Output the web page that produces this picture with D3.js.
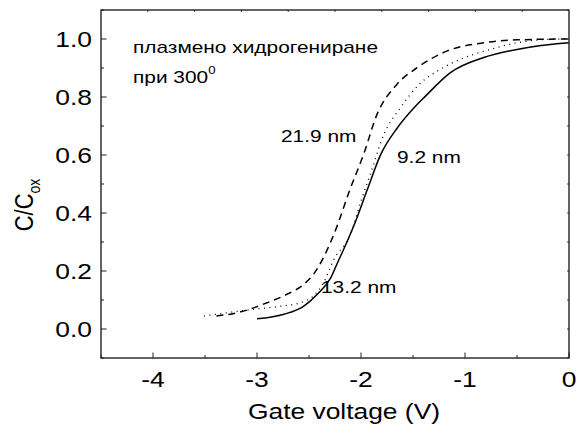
<!DOCTYPE html>
<html>
<head>
<meta charset="utf-8">
<script src="https://cdn.jsdelivr.net/npm/d3@7.9.0/dist/d3.min.js"></script>
<style>
  body { margin: 0; background: #fff; }
  svg { display: block; font-family: Arial, 'Liberation Sans', sans-serif; }
</style>
</head>
<body>
<svg id="chart" width="584" height="437"></svg>
<script>
// readings, C/Cox vs gate voltage
const voltage92 = [-3.0, -2.74, -2.55, -2.42, -2.29, -2.23, -2.16, -2.07, -1.94, -1.81, -1.65, -1.49, -1.38, -1.14, -0.82, -0.5, -0.2, 0];
const cap92 = [0.035, 0.051, 0.079, 0.12, 0.177, 0.225, 0.28, 0.355, 0.48, 0.602, 0.694, 0.763, 0.803, 0.884, 0.936, 0.964, 0.98, 0.987];

const voltage219 = [-3.39, -3.19, -2.9, -2.71, -2.55, -2.456, -2.26, -2.1, -1.975, -1.846, -1.654, -1.46, -1.17, -0.82, -0.5, 0];
const cap219 = [0.045, 0.056, 0.091, 0.12, 0.154, 0.189, 0.327, 0.487, 0.602, 0.74, 0.844, 0.901, 0.959, 0.987, 0.997, 1.0];

const voltage132 = [-3.51, -3.03, -2.81, -2.58, -2.44, -2.36, -2.26, -2.1, -2.0, -1.9, -1.78, -1.62, -1.45, -1.24, -1.045, -0.757, -0.5, -0.18, 0];
const cap132 = [0.045, 0.068, 0.077, 0.091, 0.12, 0.16, 0.24, 0.327, 0.441, 0.545, 0.671, 0.763, 0.84, 0.895, 0.93, 0.964, 0.987, 0.999, 1.0];

const xTicks = [-4, -3, -2, -1, 0];
const yTicks = [0.0, 0.2, 0.4, 0.6, 0.8, 1.0];

const margin = { top: 10, right: 15, bottom: 79, left: 101 };
const width = 584 - margin.left - margin.right;
const height = 437 - margin.top - margin.bottom;
// text in the source figure is stretched sideways
const SX = 1.2;

const svg = d3.select('#chart');
const g = svg.append('g').attr('transform', `translate(${margin.left},${margin.top})`);

const x = d3.scaleLinear().domain([-4.5, 0]).range([0, width]);
const y = d3.scaleLinear().domain([-0.1, 1.1]).range([height, 0]);

const line = d3.line()
  .x((d) => x(d[0]))
  .y((d) => y(d[1]))
  .curve(d3.curveMonotoneX);

const series = [
  { v: voltage219, c: cap219, dash: '7,5', width: 1.5 },
  { v: voltage132, c: cap132, dash: '1,4.5', width: 1.3 },
  { v: voltage92, c: cap92, dash: null, width: 1.5 },
];

series.forEach((s) => {
  g.append('path')
    .datum(d3.zip(s.v, s.c))
    .attr('fill', 'none')
    .attr('stroke', '#000')
    .attr('stroke-width', s.width)
    .attr('stroke-dasharray', s.dash)
    .attr('d', line);
});

function label(parent, px, py, size, anchor) {
  return parent.append('text')
    .attr('transform', `translate(${px},${py}) scale(${SX},1)`)
    .attr('text-anchor', anchor || 'start')
    .attr('font-size', size);
}

// bottom axis, ticks inward
const xMinor = d3.range(-4.5, 0.01, 0.5);
g.append('g')
  .selectAll('line')
  .data(xMinor)
  .join('line')
  .attr('x1', (d) => x(d))
  .attr('x2', (d) => x(d))
  .attr('y1', height)
  .attr('y2', (d) => height - (Number.isInteger(d) ? 5.5 : 3))
  .attr('stroke', '#222')
  .attr('stroke-width', 1);

xTicks.forEach((d) => {
  label(g, x(d), height + 29, 22, 'middle').text(d);
});

// left axis
const yMinor = d3.range(-0.1, 1.101, 0.1).map((d) => Math.round(d * 10) / 10);
g.append('g')
  .selectAll('line')
  .data(yMinor)
  .join('line')
  .attr('x1', 0)
  .attr('x2', (d) => (Math.round(d * 10) % 2 === 0 ? 5.5 : 3))
  .attr('y1', (d) => y(d))
  .attr('y2', (d) => y(d))
  .attr('stroke', '#222')
  .attr('stroke-width', 1);

yTicks.forEach((d) => {
  label(g, -9, y(d) + 8, 22, 'end').text(d.toFixed(1));
});

// small ticks on top and right edges
const frac = d3.scaleLinear().domain([0, 1]);
g.append('g')
  .selectAll('line')
  .data(d3.range(1, 10).map((i) => i / 10))
  .join('line')
  .attr('x1', (d) => frac.range([0, width])(d))
  .attr('x2', (d) => frac.range([0, width])(d))
  .attr('y1', 0)
  .attr('y2', 2)
  .attr('stroke', '#444');

g.append('g')
  .selectAll('line')
  .data(yMinor)
  .join('line')
  .attr('x1', width)
  .attr('x2', width - 2)
  .attr('y1', (d) => y(d))
  .attr('y2', (d) => y(d))
  .attr('stroke', '#444');

// frame
g.append('rect')
  .attr('width', width)
  .attr('height', height)
  .attr('fill', 'none')
  .attr('stroke', '#222')
  .attr('stroke-width', 1.4);

// axis titles
label(svg, 344, 419, 22, 'middle').text('Gate voltage (V)');

const yTitle = svg.append('text')
  .attr('transform', `translate(33,205) scale(${SX},1) rotate(-90)`)
  .attr('text-anchor', 'middle')
  .attr('font-size', 22);
yTitle.append('tspan').text('C/C');
yTitle.append('tspan').attr('font-size', 14).attr('dy', 6).text('ox');

// annotations
label(svg, 133, 53, 17.4).text('плазмено хидрогениране');
const t300 = label(svg, 133, 83, 17.4);
t300.append('tspan').text('при 300');
t300.append('tspan').attr('font-size', 11).attr('dy', -9).text('0');
label(svg, 281, 141.5, 17.4).text('21.9 nm');
label(svg, 397, 162.5, 17.4).text('9.2 nm');
label(svg, 321, 293, 17.4).text('13.2 nm');
</script>
</body>
</html>
